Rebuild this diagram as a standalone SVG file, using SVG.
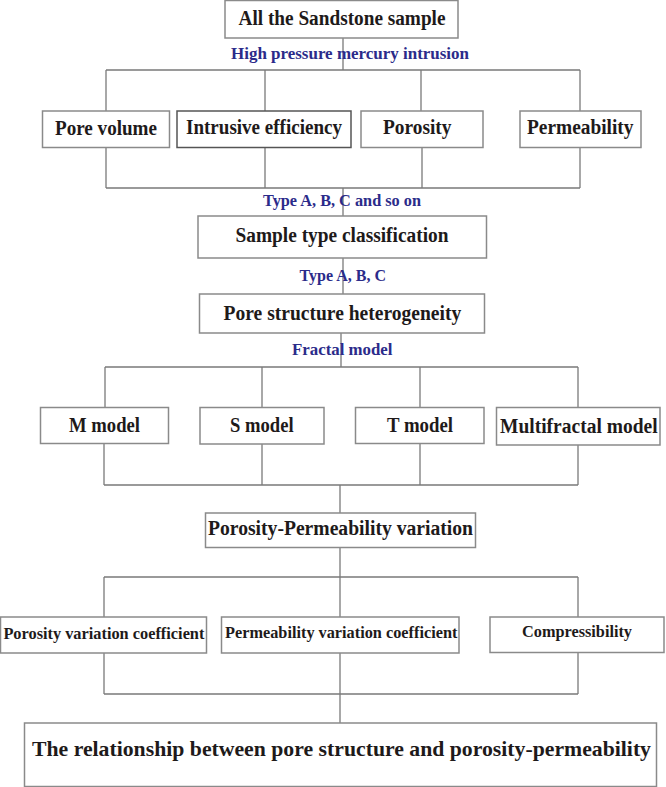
<svg xmlns="http://www.w3.org/2000/svg" width="666" height="787" viewBox="0 0 666 787">
<style>
.box{fill:#ffffff;stroke:#8a8a8a;stroke-width:1.5}
.dark{stroke:#555555}
.t{font-family:"Liberation Serif","Times New Roman",serif;font-weight:bold;fill:#1e1a1a;font-size:20px}
.b{font-family:"Liberation Serif","Times New Roman",serif;font-weight:bold;fill:#2b2b8a;font-size:17.5px}
.c{fill:none;stroke:#7a7a7a;stroke-width:1.3}
</style>
<rect width="666" height="787" fill="#ffffff"/>
<g id="connectors">
<path class="c" d="M343 38V70M106 70H580M106 70V111M265 70V111M421 70V111M580 70V111"/>
<path class="c" d="M106 147V188M265 147V188M422 147V188M580 147V188M106 188H580M343 188V216"/>
<path class="c" d="M343 258V294"/>
<path class="c" d="M341 333V367M105 367H578M105 367V407M262 367V407M420 367V407M578 367V407"/>
<path class="c" d="M104 443V485M262 443V485M420 443V485M578 445V485M104 485H578M340 485V513"/>
<path class="c" d="M340 547V577M104 577H578M104 577V617M340 577V617M578 577V617"/>
<path class="c" d="M104 653V694M340 653V694M578 653V694M104 694H578M340 694V723"/>
</g>
<g id="labels">
<text class="b" x="231" y="58.5" textLength="238" lengthAdjust="spacingAndGlyphs">High pressure mercury intrusion</text>
<text class="b" x="263" y="206" textLength="158" lengthAdjust="spacingAndGlyphs">Type A, B, C and so on</text>
<text class="b" x="299.5" y="281" textLength="86.5" lengthAdjust="spacingAndGlyphs">Type A, B, C</text>
<text class="b" x="292" y="355" textLength="100.5" lengthAdjust="spacingAndGlyphs">Fractal model</text>
</g>
<g id="n-all">
<rect class="box" x="225" y="0.5" width="233" height="37.5"/>
<text class="t" x="238.5" y="25" textLength="207" lengthAdjust="spacingAndGlyphs">All the Sandstone sample</text>
</g>
<g id="n-porevolume">
<rect class="box" x="42.5" y="111" width="127" height="36.5"/>
<text class="t" x="55" y="135" textLength="102" lengthAdjust="spacingAndGlyphs">Pore volume</text>
</g>
<g id="n-intrusive">
<rect class="box dark" x="177" y="111" width="174" height="36.5"/>
<text class="t" x="186" y="134" textLength="156" lengthAdjust="spacingAndGlyphs">Intrusive efficiency</text>
</g>
<g id="n-porosity">
<rect class="box" x="361" y="111" width="122" height="36.5"/>
<text class="t" x="383" y="134" textLength="68.5" lengthAdjust="spacingAndGlyphs">Porosity</text>
</g>
<g id="n-permeability">
<rect class="box" x="520" y="111" width="121" height="36.5"/>
<text class="t" x="527" y="134" textLength="106.5" lengthAdjust="spacingAndGlyphs">Permeability</text>
</g>
<g id="n-sampletype">
<rect class="box" x="198" y="216" width="288.5" height="42"/>
<text class="t" x="235.5" y="242" textLength="213" lengthAdjust="spacingAndGlyphs">Sample type classification</text>
</g>
<g id="n-heterogeneity">
<rect class="box" x="199.5" y="294" width="285" height="39"/>
<text class="t" x="223.6" y="320" textLength="237.6" lengthAdjust="spacingAndGlyphs">Pore structure heterogeneity</text>
</g>
<g id="n-m">
<rect class="box" x="40.5" y="407.5" width="128" height="36"/>
<text class="t" x="69" y="432" textLength="71" lengthAdjust="spacingAndGlyphs">M model</text>
</g>
<g id="n-s">
<rect class="box" x="200" y="407.5" width="124" height="36.5"/>
<text class="t" x="230" y="432" textLength="63.6" lengthAdjust="spacingAndGlyphs">S model</text>
</g>
<g id="n-t">
<rect class="box" x="355.5" y="407.5" width="128.5" height="36"/>
<text class="t" x="387" y="432" textLength="66" lengthAdjust="spacingAndGlyphs">T model</text>
</g>
<g id="n-multifractal">
<rect class="box" x="496.5" y="407.5" width="163.5" height="37.5"/>
<text class="t" x="500" y="433" textLength="157.6" lengthAdjust="spacingAndGlyphs">Multifractal model</text>
</g>
<g id="n-ppvariation">
<rect class="box" x="205.5" y="513" width="270" height="34.5"/>
<text class="t" x="208" y="535" textLength="265" lengthAdjust="spacingAndGlyphs">Porosity-Permeability variation</text>
</g>
<g id="n-porosityvc">
<rect class="box" x="0.5" y="617" width="206" height="36"/>
<text class="t" x="3.4" y="638.5" textLength="201" lengthAdjust="spacingAndGlyphs" style="font-size:17px">Porosity variation coefficient</text>
</g>
<g id="n-permeabilityvc">
<rect class="box" x="221.5" y="617" width="237.5" height="36"/>
<text class="t" x="225" y="638" textLength="232.4" lengthAdjust="spacingAndGlyphs" style="font-size:16.5px">Permeability variation coefficient</text>
</g>
<g id="n-compressibility">
<rect class="box" x="490" y="617" width="174" height="35.5"/>
<text class="t" x="522" y="637" textLength="110" lengthAdjust="spacingAndGlyphs" style="font-size:16px">Compressibility</text>
</g>
<g id="n-relationship">
<rect class="box" x="24.5" y="723" width="632" height="63.5"/>
<text class="t" x="32" y="756" textLength="619" lengthAdjust="spacingAndGlyphs" style="font-size:22px">The relationship between pore structure and porosity-permeability</text>
</g>
</svg>
